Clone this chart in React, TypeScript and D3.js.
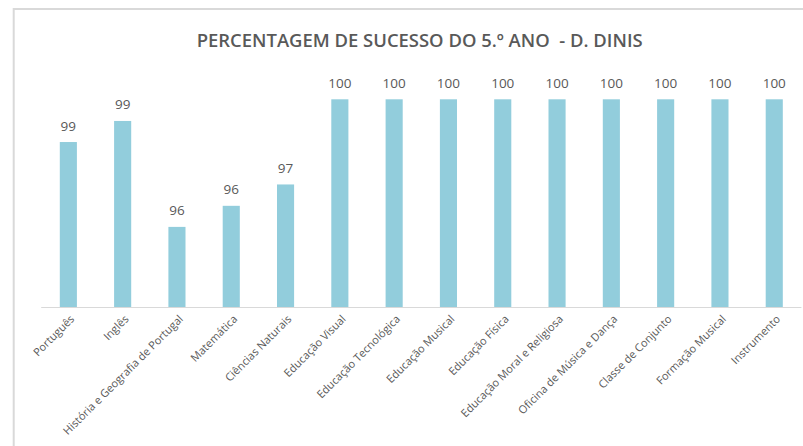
import React from "react";
import * as d3 from "d3";

const categories = [
  "Português",
  "Inglês",
  "História e Geografia de Portugal",
  "Matemática",
  "Ciências Naturais",
  "Educação Visual",
  "Educação Tecnológica",
  "Educação Musical",
  "Educação Física",
  "Educação Moral e Religiosa",
  "Oficina de Música e Dança",
  "Classe de Conjunto",
  "Formação Musical",
  "Instrumento",
];
const values = [98.56, 99.27, 95.7, 96.41, 97.13, 100, 100, 100, 100, 100, 100, 100, 100, 100];
const title = "PERCENTAGEM DE SUCESSO DO 5.º ANO  - D. DINIS";
const yDomain = [93, 100];

const W = 803;
const H = 446;
const plot = { left: 41.2, right: 801.4, top: 99.3, bottom: 307 };
const FONT = "'Open Sans', 'DejaVu Sans', sans-serif";

export default function App() {
  const x = d3
    .scaleBand<string>()
    .domain(categories)
    .range([plot.left, plot.right])
    .paddingInner(0.685)
    .paddingOuter(0.3425);
  const y = d3.scaleLinear().domain(yDomain).range([plot.bottom, plot.top]);

  return (
    <svg
      width={W}
      height={H}
      style={{ position: "absolute", left: 0, top: 0, background: "#fff" }}
      fontFamily={FONT}
    >
      <rect x={0} y={0} width={W} height={H} fill="#fff" />
      <rect x={13.7} y={9} width={W + 20} height={H + 20} fill="#fff" stroke="#d9d9d9" strokeWidth={2} />
      <text
        x={(196.7 + 642.7) / 2}
        y={46.5}
        textAnchor="middle"
        fontSize={18.5}
        fontWeight={600}
        fill="#595959"
        textLength={446}
        lengthAdjust="spacingAndGlyphs"
        style={{ whiteSpace: "pre" }}
        xmlSpace="preserve"
      >
        {title}
      </text>
      {categories.map((c, i) => (
        <rect
          key={c}
          x={x(c)}
          y={y(values[i])}
          width={x.bandwidth()}
          height={y(yDomain[0]) - y(values[i])}
          fill="#92cddc"
        />
      ))}
      <line x1={plot.left} x2={plot.right} y1={plot.bottom + 0.5} y2={plot.bottom + 0.5} stroke="#d9d9d9" strokeWidth={1.2} />
      {categories.map((c, i) => (
        <text
          key={"v" + c}
          x={(x(c) as number) + x.bandwidth() / 2}
          y={y(values[i]) - 11.5}
          textAnchor="middle"
          fontSize={13.5}
          fill="#595959"
        >
          {d3.format(".0f")(values[i])}
        </text>
      ))}
      {categories.map((c) => (
        <text
          key={"c" + c}
          transform={`translate(${(x(c) as number) + x.bandwidth() / 2 + 4},${plot.bottom + 10}) rotate(-45)`}
          textAnchor="end"
          dy="0.35em"
          fontSize={11}
          fill="#595959"
        >
          {c}
        </text>
      ))}
    </svg>
  );
}
